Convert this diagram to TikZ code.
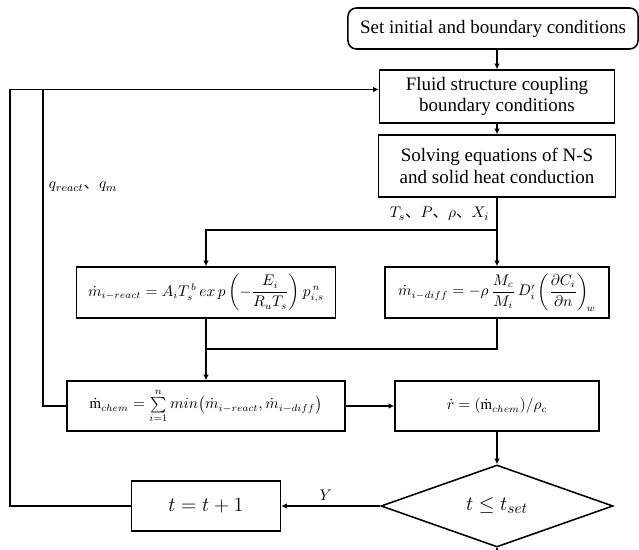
\documentclass[tikz,border=0pt]{standalone}
\usepackage{amsmath}
\usepackage{fontspec}
\setmainfont{Liberation Serif}
\newfontfamily\cjk{Noto Sans CJK SC}
\usetikzlibrary{arrows.meta,shapes.geometric,calc}

\tikzset{
        stepbox/.style={draw, line width=1.1pt, inner sep=2pt, align=center},
        flow/.style={line width=1.1pt, -{Latex[length=4pt,width=4pt]}},
        link/.style={line width=1.1pt},
        textfont/.style={font=\fontsize{13.5}{15.5}\selectfont},
        mathfont/.style={font=\fontsize{10.5}{12}\selectfont},
        tagfont/.style={font=\fontsize{11}{13}\selectfont}
}

\begin{document}
\begin{tikzpicture}[x=0.025cm, y=-0.025cm]
                \useasboundingbox (0,0) rectangle (639,550);

                \node[stepbox, textfont, rounded corners=6pt, minimum width=7.25cm, minimum height=1.025cm] (init) at (493,28.5) {Set initial and boundary conditions};
                \node[stepbox, textfont, minimum width=5.875cm, minimum height=1.325cm] (fluid) at (497,96.5) {Fluid structure coupling\\boundary conditions};
                \node[stepbox, textfont, minimum width=5.925cm, minimum height=1.55cm] (solve) at (497,166) {Solving equations of N-S\\and solid heat conduction};

                \node[stepbox, mathfont, minimum width=6.475cm, minimum height=1.275cm] (react) at (206,292.5) {$\dot m_{i-react} = A_i T_s^{\,b}\, ex\,p\left(-\dfrac{E_i}{R_u T_s}\right) p_{i,s}^{\,n}$};
                \node[stepbox, mathfont, minimum width=5.6cm, minimum height=1.275cm] (diff) at (497,292.5) {$\dot m_{i-diff} = -\rho\,\dfrac{M_c}{M_i}\,D_i'\left(\dfrac{\partial C_i}{\partial n}\right)_{\!w}$};

                \node[stepbox, mathfont, minimum width=6.95cm, minimum height=1.25cm] (chem) at (206,406) {$\dot{\mathrm{m}}_{chem} = \sum\limits_{i=1}^{n} min\big(\dot m_{i-react}, \dot m_{i-diff}\big)$};
                \node[stepbox, mathfont, minimum width=5.1cm, minimum height=1.25cm] (rate) at (497,406) {$\dot r = (\dot{\mathrm{m}}_{chem})/\rho_c$};

                \node[stepbox, font=\fontsize{15}{17}\selectfont, minimum width=3.725cm, minimum height=1.25cm] (tinc) at (206,506) {$t = t + 1$};
                \node[stepbox, font=\fontsize{15}{17}\selectfont, shape=diamond, inner sep=0pt, minimum width=5.8cm, minimum height=2.05cm] (cond) at (497,506) {$t \le t_{set}$};

                \coordinate (split) at (497,230);
                \coordinate (merge) at (206,349);
                \coordinate (lower) at (10,506);
                \coordinate (upper) at (10,89.5);
                \coordinate (tap) at (43,89.5);
                \coordinate (exit) at (497,552);

                \draw[flow] (init.south -| fluid.north) -- (fluid.north);
                \draw[flow] (fluid) -- (solve);
                \draw[link] (solve.south) -- (split);
                \draw[flow] (split) -- (diff.north);
                \draw[flow] (split) -| (react.north);

                \draw[link] (diff.south) |- (merge);
                \draw[flow] (react.south) -- (chem.north);
                \draw[flow] (chem) -- (rate);
                \draw[flow] (rate) -- (cond);
                \draw[link] (cond.south) -- (exit);

                \draw[flow] (cond) -- node[above, pos=0.55, tagfont] (yes) {$Y$} (tinc);
                \draw[flow] (tinc.west) -- (lower) -- (upper) -- ($(fluid.west)+(0,-7)$);
                \draw[link] (tap) |- (chem.west);

                \node[right, tagfont] (heat) at (44,187) {$q_{react}$\cjk{、}$q_m$};
                \node[left, tagfont] (state) at (494,214) {$T_s$\cjk{、}$P$\cjk{、}$\rho$\cjk{、}$X_i$};
            \end{tikzpicture}
\end{document}
